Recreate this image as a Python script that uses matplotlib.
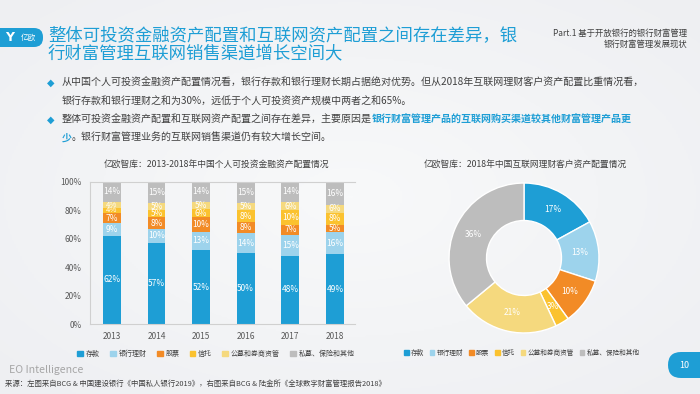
import matplotlib
matplotlib.use('Agg')
import matplotlib.pyplot as plt
import numpy as np
from matplotlib.patches import FancyBboxPatch, Patch
from matplotlib.colors import LinearSegmentedColormap

plt.rcParams['font.family'] = ['Noto Sans CJK SC', 'DejaVu Sans']

# data
years = ['2013', '2014', '2015', '2016', '2017', '2018']
categories = ['存款', '银行理财', '股票', '信托', '公募和券商资管', '私募、保险和其他']
deposit = [62, 57, 52, 50, 48, 49]
bank_wm = [9, 10, 13, 14, 15, 16]
stocks = [7, 8, 10, 8, 7, 5]
trust = [4, 5, 6, 8, 10, 8]
funds = [4, 5, 5, 5, 6, 6]
private = [14, 15, 14, 15, 14, 16]
online_2018 = [17, 13, 10, 3, 21, 36]

colors = ['#1E9ED5', '#9DD3EC', '#F28B26', '#FBC22F', '#F5D97E', '#BDBDBD']
blue = '#1E9ED5'
W, H = 700, 394


def fx(x):
    return x / W


def fy(y):
    return 1 - y / H


fig = plt.figure(figsize=(7, 3.94), dpi=100)

# soft background
bg = fig.add_axes([0, 0, 1, 1], zorder=-10)
yy, xx = np.mgrid[-1:1:200j, -1:1:350j]
grad = np.sqrt(xx ** 2 * 0.6 + yy ** 2 * 0.6)
cmap = LinearSegmentedColormap.from_list('bg', ['#F8F9FA', '#EEEFF2'])
bg.imshow(grad, cmap=cmap, aspect='auto', extent=[0, 1, 0, 1])
bg.axis('off')

# logo and title
fig.patches.append(FancyBboxPatch((-0.2, (H - 47) / 100), 0.63, 0.19,
                                  boxstyle='round,pad=0,rounding_size=0.09',
                                  transform=fig.dpi_scale_trans, fc=blue, ec='none'))
fig.text(fx(10), fy(37.5), 'Y', color='white', fontsize=9, fontweight='bold',
         ha='center', va='center', family='DejaVu Sans')
fig.text(fx(28), fy(37.5), '亿欧', color='white', fontsize=5.5, ha='center', va='center')
fig.text(fx(48), fy(35), '整体可投资金融资产配置和互联网资产配置之间存在差异，银',
         color=blue, fontsize=12.5, va='center')
fig.text(fx(48), fy(53), '行财富管理互联网销售渠道增长空间大',
         color=blue, fontsize=12.5, va='center')
fig.text(fx(687), fy(33), 'Part.1 基于开放银行的银行财富管理', color='#404040',
         fontsize=6, ha='right', va='center')
fig.text(fx(687), fy(44), '银行财富管理发展现状', color='#404040',
         fontsize=6, ha='right', va='center')

# bullets
txt = '#404040'
fs = 7.2
r = fig.canvas.get_renderer()


def seq(x, y, parts):
    for s, c, w in parts:
        t = fig.text(fx(x), fy(y), s, color=c, fontsize=fs, fontweight=w, va='center')
        x = t.get_window_extent(renderer=r).x1


for by in [83, 120]:
    fig.text(fx(51), fy(by), '◆', color=blue, fontsize=7, ha='center', va='center',
             family='DejaVu Sans')
seq(62, 83, [('从中国个人可投资金融资产配置情况看，银行存款和银行理财长期占据绝对优势。'
              '但从2018年互联网理财客户资产配置比重情况看，', txt, 'normal')])
seq(62, 102, [('银行存款和银行理财之和为30%，远低于个人可投资资产规模中两者之和65%。', txt, 'normal')])
seq(62, 120, [('整体可投资金融资产配置和互联网资产配置之间存在差异，主要原因是', txt, 'normal'),
              ('银行财富管理产品的互联网购买渠道较其他财富管理产品更', blue, 'bold')])
seq(62, 138, [('少', blue, 'bold'),
              ('。银行财富管理业务的互联网销售渠道仍有较大增长空间。', txt, 'normal')])

# stacked bar chart
ax = fig.add_axes([fx(90), fy(324), (355 - 90) / W, (324 - 182) / H])
ax.set_facecolor('none')
series = [deposit, bank_wm, stocks, trust, funds, private]
x = np.arange(len(years))
bottom = np.zeros(len(years))
for vals, col in zip(series, colors):
    vals = np.array(vals)
    ax.bar(x, vals, 0.4, bottom=bottom, color=col, edgecolor='none')
    for xi, b, v in zip(x, bottom, vals):
        ax.text(xi, b + v / 2, f'{v}%', color='white', fontsize=6 if v > 4 else 5.6,
                ha='center', va='center')
    bottom += vals
ax.set_xlim(-0.49, 5.45)
ax.set_ylim(0, 100)
ax.set_yticks(range(0, 101, 20))
ax.set_yticklabels([f'{v}%' for v in range(0, 101, 20)])
ax.set_xticks(x)
ax.set_xticklabels(years)
ax.tick_params(length=0, labelsize=6, colors='#595959', pad=6)
ax.spines['right'].set_visible(False)
for s in ['left', 'bottom', 'top']:
    ax.spines[s].set_color('#D0D0D0')
    ax.spines[s].set_linewidth(0.8)
fig.text(fx(216), fy(164), '亿欧智库：2013-2018年中国个人可投资金融资产配置情况',
         fontsize=6.3, color='#404040', ha='center', va='center')

handles = [Patch(color=c) for c in colors]
fig.legend(handles, categories, loc='center', bbox_to_anchor=(fx(216), fy(354)), ncol=6,
           frameon=False, fontsize=5, handlelength=0.8, handleheight=0.8,
           handletextpad=0.4, columnspacing=1.5, labelcolor='#404040')

# donut
ax2 = fig.add_axes([fx(524 - 80), fy(258 + 80), 160 / W, 160 / H])
ax2.pie(online_2018, colors=colors, startangle=90, counterclock=False, radius=1,
        wedgeprops=dict(width=0.5, edgecolor='white', linewidth=1),
        autopct=lambda p: f'{p:.0f}%', pctdistance=0.75,
        textprops=dict(color='white', fontsize=6))
ax2.set_xlim(-1.067, 1.067)
ax2.set_ylim(-1.067, 1.067)
ax2.set_aspect('equal')
fig.text(fx(525), fy(164), '亿欧智库：2018年中国互联网理财客户资产配置情况',
         fontsize=6.3, color='#404040', ha='center', va='center')
fig.legend(handles, categories, loc='center', bbox_to_anchor=(fx(522), fy(353)), ncol=6,
           frameon=False, fontsize=4.8, handlelength=0.7, handleheight=0.7,
           handletextpad=0.4, columnspacing=0.8, labelcolor='#404040')

# footer
fig.text(fx(9), fy(370), 'EO Intelligence', color='#A6A6A6', fontsize=7.6, va='center')
fig.text(fx(5), fy(384), '来源：左图来自BCG & 中国建设银行《中国私人银行2019》，'
         '右图来自BCG & 陆金所《全球数字财富管理报告2018》',
         color='#404040', fontsize=5.3, style='italic', va='center')
fig.patches.append(FancyBboxPatch((6.68, (H - 378) / 100), 0.6, 0.26,
                                  boxstyle='round,pad=0,rounding_size=0.13',
                                  transform=fig.dpi_scale_trans, fc=blue, ec='none'))
fig.text(fx(684), fy(365), '10', color='white', fontsize=6.5, ha='center', va='center')

fig.savefig('out.png', dpi=100)
